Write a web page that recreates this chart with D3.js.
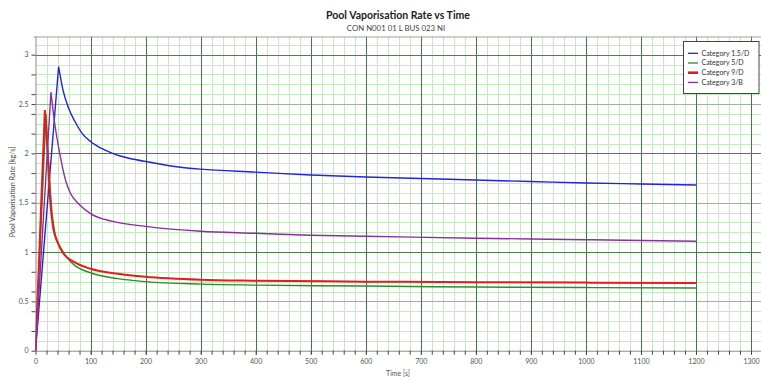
<!DOCTYPE html>
<html>
<head>
<meta charset="utf-8">
<script src="https://cdn.jsdelivr.net/npm/d3@7"></script>
<style>
  html, body { margin: 0; padding: 0; background: #fff; }
  svg { display: block; font-family: Lato, "Open Sans", sans-serif; }
</style>
</head>
<body>
<svg id="chart" width="761" height="382"></svg>
<script>
// Series names and colours (legend order)
const seriesNames = ["Category 1.5/D", "Category 5/D", "Category 9/D", "Category 3/B"];
const seriesColors = ["#2323d8", "#2f8a2f", "#e41c1c", "#8a2fa0"];

// Time [s] and pool vaporisation rate [kg/s] for each weather category
const time15D = [0, 42, 50, 60, 72, 85, 100, 120, 140, 170, 208, 250, 300, 400, 500, 600, 700, 800, 900, 1000, 1100, 1200];
const rate15D = [0, 2.88, 2.64, 2.46, 2.32, 2.20, 2.12, 2.05, 2.0, 1.95, 1.91, 1.87, 1.84, 1.81, 1.78, 1.76, 1.745, 1.73, 1.715, 1.70, 1.69, 1.68];

const time5D = [0, 19, 24, 30, 35, 45, 55, 70, 100, 150, 200, 300, 400, 600, 800, 1000, 1200];
const rate5D = [0, 2.40, 1.90, 1.40, 1.20, 1.05, 0.96, 0.87, 0.79, 0.73, 0.70, 0.675, 0.665, 0.655, 0.645, 0.64, 0.635];

const time9D = [0, 17, 22, 27, 32, 40, 50, 70, 100, 150, 200, 300, 400, 600, 800, 1000, 1200];
const rate9D = [0, 2.44, 2.0, 1.5, 1.25, 1.10, 0.99, 0.90, 0.83, 0.78, 0.75, 0.72, 0.71, 0.70, 0.695, 0.69, 0.685];

const time3B = [0, 28, 35, 44, 55, 63, 80, 100, 140, 200, 300, 400, 500, 600, 800, 1000, 1200];
const rate3B = [0, 2.62, 2.3, 2.0, 1.72, 1.60, 1.48, 1.39, 1.31, 1.26, 1.21, 1.19, 1.17, 1.16, 1.14, 1.125, 1.11];

// Axis tick labels
const xTickLabels = [0, 100, 200, 300, 400, 500, 600, 700, 800, 900, 1000, 1100, 1200, 1300];
const yTickLabels = [0, 0.5, 1, 1.5, 2, 2.5, 3];

const titleText = "Pool Vaporisation Rate vs Time";
const subtitleText = "CON N001 01 L BUS 023 NI";
const xTitle = "Time [s]";
const yTitle = "Pool Vaporisation Rate [kg/s]";

const series = [
  { name: seriesNames[0], color: seriesColors[0], t: time15D, v: rate15D, w: 1.4 },
  { name: seriesNames[1], color: seriesColors[1], t: time5D,  v: rate5D,  w: 1.4 },
  { name: seriesNames[2], color: seriesColors[2], t: time9D,  v: rate9D,  w: 2.0 },
  { name: seriesNames[3], color: seriesColors[3], t: time3B,  v: rate3B,  w: 1.4 }
];

const svg = d3.select("#chart");
const plot = { left: 35.5, right: 761, top: 36.5, bottom: 350.7 };

const x = d3.scaleLinear().domain([0, 1300]).range([plot.left, 751]);
const y = d3.scaleLinear().domain([0, 3]).range([plot.bottom, 54.7]);

// Plot background
svg.append("rect")
  .attr("x", plot.left).attr("y", plot.top)
  .attr("width", plot.right - plot.left).attr("height", plot.bottom - plot.top)
  .attr("fill", "#fff");

const grid = svg.append("g");
const xMax = x.invert(plot.right);
const yMax = y.invert(plot.top);
const eps = 1e-6;
const minorColor = "#c6eabf";

// Minor vertical grid every 20 s
d3.range(20, xMax, 20).filter(d => Math.abs(d % 100) > eps).forEach(d => {
  grid.append("line")
    .attr("x1", Math.round(x(d)) + 0.5).attr("x2", Math.round(x(d)) + 0.5)
    .attr("y1", plot.top).attr("y2", plot.bottom)
    .attr("stroke", minorColor).attr("stroke-width", 1);
});
// Minor horizontal grid every 0.1 kg/s
d3.range(0.1, yMax, 0.1).forEach(d => {
  const r = Math.round(d * 10) / 10;
  if (Math.abs(r * 2 - Math.round(r * 2)) < eps) return;
  grid.append("line")
    .attr("x1", plot.left).attr("x2", plot.right)
    .attr("y1", Math.round(y(r)) + 0.5).attr("y2", Math.round(y(r)) + 0.5)
    .attr("stroke", minorColor).attr("stroke-width", 1);
});
// Half-unit horizontal lines
[0.5, 1.5, 2.5].forEach(d => {
  grid.append("line")
    .attr("x1", plot.left).attr("x2", plot.right)
    .attr("y1", Math.round(y(d)) + 0.5).attr("y2", Math.round(y(d)) + 0.5)
    .attr("stroke", "#9bb598").attr("stroke-width", 1);
});
// Major grid
xTickLabels.filter(d => d > 0).forEach(d => {
  grid.append("line")
    .attr("x1", Math.round(x(d)) + 0.5).attr("x2", Math.round(x(d)) + 0.5)
    .attr("y1", plot.top).attr("y2", plot.bottom + 4)
    .attr("stroke", "#3f7a3f").attr("stroke-width", 1);
});
[1, 2, 3].forEach(d => {
  grid.append("line")
    .attr("x1", plot.left).attr("x2", plot.right)
    .attr("y1", Math.round(y(d)) + 0.5).attr("y2", Math.round(y(d)) + 0.5)
    .attr("stroke", "#4d814b").attr("stroke-width", 1.1);
});

// Plot frame
svg.append("line").attr("x1", plot.left - 2).attr("x2", plot.right)
  .attr("y1", plot.top + 0.5).attr("y2", plot.top + 0.5).attr("stroke", "#a0a0a0");

// X axis
const xAxis = d3.axisBottom(x)
  .tickValues(d3.range(0, xMax, 20))
  .tickSize(4)
  .tickFormat(d => xTickLabels.includes(d) ? d : "");
const gx = svg.append("g").attr("transform", `translate(0,${plot.bottom})`).call(xAxis);
gx.select(".domain").attr("stroke", "#8a8a8a").attr("d", `M${plot.left},0.5H${plot.right}`);
gx.selectAll(".tick line").attr("stroke", "#444");
gx.selectAll(".tick text").attr("fill", "#555").attr("font-size", 7).attr("dy", "0.95em")
  .attr("font-family", "Lato, sans-serif");

// Y axis
const yTicks = d3.range(0, 3.01, 0.1).map(d => Math.round(d * 10) / 10)
  .filter(d => Math.abs((d * 10) % 2) < eps || yTickLabels.includes(d));
const yAxis = d3.axisLeft(y)
  .tickValues(yTicks)
  .tickSize(4)
  .tickFormat(d => yTickLabels.includes(d) ? d : "");
const gy = svg.append("g").attr("transform", `translate(${plot.left},0)`).call(yAxis);
gy.select(".domain").attr("stroke", "#8a8a8a").attr("d", `M0.5,${plot.top}V${plot.bottom}`);
gy.selectAll(".tick line").attr("stroke", "#444");
gy.selectAll(".tick text").attr("fill", "#555").attr("font-size", 7).attr("x", -7)
  .attr("font-family", "Lato, sans-serif");

// Series lines: straight rise to the peak, smooth decay after it
const riseLine = d3.line();
const decayLine = d3.line().curve(d3.curveMonotoneX);
svg.append("clipPath").attr("id", "plotclip")
  .append("rect").attr("x", plot.left).attr("y", plot.top)
  .attr("width", plot.right - plot.left).attr("height", plot.bottom - plot.top);
const lines = svg.append("g").attr("clip-path", "url(#plotclip)");
series.forEach(s => {
  const pts = s.t.map((t, i) => [x(t), y(s.v[i])]);
  const peak = d3.maxIndex(s.v);
  const d = riseLine(pts.slice(0, peak + 1)) + "L" + decayLine(pts.slice(peak)).slice(1);
  lines.append("path")
    .attr("d", d)
    .attr("fill", "none")
    .attr("stroke", s.color)
    .attr("stroke-width", s.w)
    .attr("stroke-linejoin", "miter");
});

// Titles
svg.append("text").attr("x", 398).attr("y", 19).attr("text-anchor", "middle")
  .attr("font-size", 10.5).attr("font-weight", "bold").attr("fill", "#222").text(titleText);
svg.append("text").attr("x", 396).attr("y", 31).attr("text-anchor", "middle")
  .attr("font-size", 7.8).attr("fill", "#444").text(subtitleText);
svg.append("text").attr("x", 398).attr("y", 376).attr("text-anchor", "middle")
  .attr("font-size", 7).attr("fill", "#555").text(xTitle);
svg.append("text").attr("transform", `translate(15,192) rotate(-90)`).attr("text-anchor", "middle")
  .attr("font-size", 7.2).attr("fill", "#444").text(yTitle);

// Legend
const legend = svg.append("g").attr("transform", "translate(683.5,41.5)");
legend.append("rect").attr("width", 75.5).attr("height", 52)
  .attr("fill", "#fff").attr("stroke", "#444").attr("stroke-width", 1);
series.forEach((s, i) => {
  const cy = 11.8 + i * 9.7;
  legend.append("line").attr("x1", 4.5).attr("x2", 14.5).attr("y1", cy).attr("y2", cy)
    .attr("stroke", s.color).attr("stroke-width", i === 2 ? 2.6 : 1.3);
  legend.append("text").attr("x", 18).attr("y", cy).attr("dy", "0.35em")
    .attr("font-size", 7).attr("fill", "#333").text(s.name);
});
</script>
</body>
</html>
